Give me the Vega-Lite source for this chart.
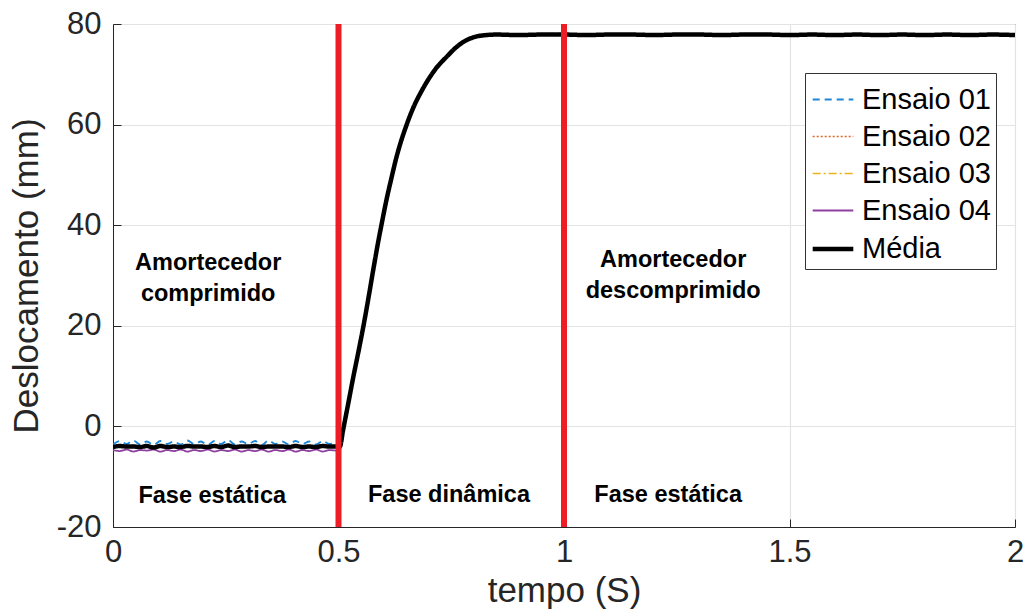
{
  "$schema": "https://vega.github.io/schema/vega-lite/v6.json",
  "autosize": "none",
  "width": 902,
  "height": 503,
  "padding": {"left": 113, "top": 24, "right": 11, "bottom": 89},
  "background": "white",
  "config": {
    "view": {"stroke": "#262626", "strokeWidth": 1},
    "font": "Liberation Sans",
    "axis": {
      "labelFont": "Liberation Sans",
      "titleFont": "Liberation Sans",
      "labelFontSize": 31,
      "titleFontSize": 35,
      "labelColor": "#262626",
      "titleColor": "#262626",
      "titleFontWeight": "normal",
      "domainColor": "#262626",
      "gridColor": "#e3e3e3",
      "gridWidth": 1.2,
      "ticks": true,
      "tickSize": -8,
      "tickColor": "#262626",
      "labelExpr": "toString(datum.value)"
    },
    "legend": {
      "labelFont": "Liberation Sans",
      "labelFontSize": 29,
      "labelColor": "#000000",
      "fillColor": "white",
      "strokeColor": "#333333",
      "padding": 5,
      "symbolType": "stroke",
      "symbolSize": 1650,
      "rowPadding": -9,
      "labelOffset": 6
    }
  },
  "layer": [
    {
      "data": {
        "values": [
          {"t": 0.000, "Ensaio 01": -3.6, "Ensaio 02": -4.1, "Ensaio 03": -3.9, "Ensaio 04": -4.7, "Média": -4.1},
          {"t": 0.015, "Ensaio 01": -2.9, "Ensaio 02": -3.9, "Ensaio 03": -4.1, "Ensaio 04": -4.9, "Média": -3.9},
          {"t": 0.030, "Ensaio 01": -3.5, "Ensaio 02": -4.2, "Ensaio 03": -3.8, "Ensaio 04": -4.6, "Média": -4.0},
          {"t": 0.045, "Ensaio 01": -2.8, "Ensaio 02": -3.8, "Ensaio 03": -4.2, "Ensaio 04": -5.0, "Média": -4.0},
          {"t": 0.060, "Ensaio 01": -3.6, "Ensaio 02": -4.1, "Ensaio 03": -3.9, "Ensaio 04": -4.7, "Média": -4.1},
          {"t": 0.075, "Ensaio 01": -3.0, "Ensaio 02": -3.9, "Ensaio 03": -4.0, "Ensaio 04": -4.8, "Média": -3.9},
          {"t": 0.090, "Ensaio 01": -3.7, "Ensaio 02": -4.2, "Ensaio 03": -4.1, "Ensaio 04": -4.6, "Média": -4.2},
          {"t": 0.105, "Ensaio 01": -2.9, "Ensaio 02": -3.9, "Ensaio 03": -3.9, "Ensaio 04": -5.0, "Média": -3.9},
          {"t": 0.120, "Ensaio 01": -3.5, "Ensaio 02": -4.1, "Ensaio 03": -4.2, "Ensaio 04": -4.7, "Média": -4.1},
          {"t": 0.135, "Ensaio 01": -3.0, "Ensaio 02": -4.0, "Ensaio 03": -3.9, "Ensaio 04": -4.9, "Média": -4.0},
          {"t": 0.150, "Ensaio 01": -3.6, "Ensaio 02": -4.2, "Ensaio 03": -4.0, "Ensaio 04": -4.6, "Média": -4.1},
          {"t": 0.165, "Ensaio 01": -2.8, "Ensaio 02": -3.8, "Ensaio 03": -4.1, "Ensaio 04": -5.0, "Média": -3.9},
          {"t": 0.180, "Ensaio 01": -3.5, "Ensaio 02": -4.1, "Ensaio 03": -3.9, "Ensaio 04": -4.7, "Média": -4.0},
          {"t": 0.195, "Ensaio 01": -3.0, "Ensaio 02": -4.0, "Ensaio 03": -4.2, "Ensaio 04": -4.9, "Média": -4.0},
          {"t": 0.210, "Ensaio 01": -3.7, "Ensaio 02": -4.2, "Ensaio 03": -3.9, "Ensaio 04": -4.6, "Média": -4.1},
          {"t": 0.225, "Ensaio 01": -2.9, "Ensaio 02": -3.9, "Ensaio 03": -4.0, "Ensaio 04": -5.0, "Média": -3.9},
          {"t": 0.240, "Ensaio 01": -3.5, "Ensaio 02": -4.1, "Ensaio 03": -4.1, "Ensaio 04": -4.7, "Média": -4.1},
          {"t": 0.255, "Ensaio 01": -2.7, "Ensaio 02": -3.8, "Ensaio 03": -3.9, "Ensaio 04": -4.9, "Média": -3.8},
          {"t": 0.270, "Ensaio 01": -3.6, "Ensaio 02": -4.2, "Ensaio 03": -4.2, "Ensaio 04": -4.6, "Média": -4.1},
          {"t": 0.285, "Ensaio 01": -3.0, "Ensaio 02": -4.0, "Ensaio 03": -3.9, "Ensaio 04": -5.0, "Média": -4.0},
          {"t": 0.300, "Ensaio 01": -3.5, "Ensaio 02": -4.1, "Ensaio 03": -4.0, "Ensaio 04": -4.7, "Média": -4.0},
          {"t": 0.315, "Ensaio 01": -2.9, "Ensaio 02": -3.9, "Ensaio 03": -4.1, "Ensaio 04": -4.9, "Média": -3.9},
          {"t": 0.330, "Ensaio 01": -3.7, "Ensaio 02": -4.2, "Ensaio 03": -3.9, "Ensaio 04": -4.6, "Média": -4.1},
          {"t": 0.345, "Ensaio 01": -2.8, "Ensaio 02": -3.8, "Ensaio 03": -4.2, "Ensaio 04": -5.0, "Média": -4.0},
          {"t": 0.360, "Ensaio 01": -3.5, "Ensaio 02": -4.1, "Ensaio 03": -3.9, "Ensaio 04": -4.7, "Média": -4.0},
          {"t": 0.375, "Ensaio 01": -3.0, "Ensaio 02": -4.0, "Ensaio 03": -4.0, "Ensaio 04": -4.9, "Média": -4.0},
          {"t": 0.390, "Ensaio 01": -3.6, "Ensaio 02": -4.2, "Ensaio 03": -4.1, "Ensaio 04": -4.6, "Média": -4.1},
          {"t": 0.405, "Ensaio 01": -2.9, "Ensaio 02": -3.9, "Ensaio 03": -3.9, "Ensaio 04": -5.0, "Média": -3.9},
          {"t": 0.420, "Ensaio 01": -3.5, "Ensaio 02": -4.1, "Ensaio 03": -4.2, "Ensaio 04": -4.7, "Média": -4.1},
          {"t": 0.435, "Ensaio 01": -3.0, "Ensaio 02": -4.0, "Ensaio 03": -3.9, "Ensaio 04": -4.9, "Média": -4.0},
          {"t": 0.450, "Ensaio 01": -3.6, "Ensaio 02": -4.2, "Ensaio 03": -4.0, "Ensaio 04": -4.6, "Média": -4.1},
          {"t": 0.465, "Ensaio 01": -2.9, "Ensaio 02": -3.9, "Ensaio 03": -4.1, "Ensaio 04": -5.0, "Média": -3.9},
          {"t": 0.480, "Ensaio 01": -3.5, "Ensaio 02": -4.1, "Ensaio 03": -3.9, "Ensaio 04": -4.7, "Média": -4.0},
          {"t": 0.495, "Ensaio 01": -3.1, "Ensaio 02": -4.0, "Ensaio 03": -4.1, "Ensaio 04": -4.8, "Média": -4.0},
          {"t": 0.503, "Ensaio 01": -3.4, "Ensaio 02": -4.0, "Ensaio 03": -4.0, "Ensaio 04": -4.6, "Média": -4.0},
          {"t": 0.510, "Ensaio 01": -0.5, "Ensaio 02": -0.8, "Ensaio 03": -0.7, "Ensaio 04": -1.1, "Média": -0.8},
          {"t": 0.520, "Ensaio 01": 4.0, "Ensaio 02": 3.8, "Ensaio 03": 3.9, "Ensaio 04": 3.6, "Média": 3.8},
          {"t": 0.533, "Ensaio 01": 10.0, "Ensaio 02": 9.9, "Ensaio 03": 9.9, "Ensaio 04": 9.8, "Média": 9.9},
          {"t": 0.545, "Ensaio 01": 15.3, "Ensaio 02": 15.2, "Ensaio 03": 15.2, "Ensaio 04": 15.1, "Média": 15.2},
          {"t": 0.555, "Ensaio 01": 19.9, "Ensaio 02": 19.8, "Ensaio 03": 19.8, "Ensaio 04": 19.7, "Média": 19.8},
          {"t": 0.565, "Ensaio 01": 24.9, "Ensaio 02": 24.8, "Ensaio 03": 24.8, "Ensaio 04": 24.7, "Média": 24.8},
          {"t": 0.577, "Ensaio 01": 31.2, "Ensaio 02": 31.1, "Ensaio 03": 31.1, "Ensaio 04": 31.0, "Média": 31.1},
          {"t": 0.587, "Ensaio 01": 36.3, "Ensaio 02": 36.2, "Ensaio 03": 36.2, "Ensaio 04": 36.1, "Média": 36.2},
          {"t": 0.596, "Ensaio 01": 40.5, "Ensaio 02": 40.4, "Ensaio 03": 40.4, "Ensaio 04": 40.3, "Média": 40.4},
          {"t": 0.607, "Ensaio 01": 45.4, "Ensaio 02": 45.3, "Ensaio 03": 45.3, "Ensaio 04": 45.2, "Média": 45.3},
          {"t": 0.618, "Ensaio 01": 49.7, "Ensaio 02": 49.6, "Ensaio 03": 49.6, "Ensaio 04": 49.5, "Média": 49.6},
          {"t": 0.627, "Ensaio 01": 53.1, "Ensaio 02": 53.0, "Ensaio 03": 53.0, "Ensaio 04": 52.9, "Média": 53.0},
          {"t": 0.636, "Ensaio 01": 56.0, "Ensaio 02": 55.9, "Ensaio 03": 55.9, "Ensaio 04": 55.8, "Média": 55.9},
          {"t": 0.650, "Ensaio 01": 59.8, "Ensaio 02": 59.7, "Ensaio 03": 59.7, "Ensaio 04": 59.6, "Média": 59.7},
          {"t": 0.666, "Ensaio 01": 63.5, "Ensaio 02": 63.4, "Ensaio 03": 63.4, "Ensaio 04": 63.3, "Média": 63.4},
          {"t": 0.685, "Ensaio 01": 66.9, "Ensaio 02": 66.8, "Ensaio 03": 66.8, "Ensaio 04": 66.7, "Média": 66.8},
          {"t": 0.703, "Ensaio 01": 69.6, "Ensaio 02": 69.5, "Ensaio 03": 69.5, "Ensaio 04": 69.4, "Média": 69.5},
          {"t": 0.720, "Ensaio 01": 71.7, "Ensaio 02": 71.6, "Ensaio 03": 71.6, "Ensaio 04": 71.5, "Média": 71.6},
          {"t": 0.740, "Ensaio 01": 73.6, "Ensaio 02": 73.5, "Ensaio 03": 73.5, "Ensaio 04": 73.4, "Média": 73.5},
          {"t": 0.760, "Ensaio 01": 75.4, "Ensaio 02": 75.3, "Ensaio 03": 75.3, "Ensaio 04": 75.2, "Média": 75.3},
          {"t": 0.784, "Ensaio 01": 76.9, "Ensaio 02": 76.8, "Ensaio 03": 76.8, "Ensaio 04": 76.7, "Média": 76.8},
          {"t": 0.805, "Ensaio 01": 77.6, "Ensaio 02": 77.5, "Ensaio 03": 77.5, "Ensaio 04": 77.4, "Média": 77.5},
          {"t": 0.828, "Ensaio 01": 77.9, "Ensaio 02": 77.8, "Ensaio 03": 77.8, "Ensaio 04": 77.7, "Média": 77.8},
          {"t": 0.850, "Ensaio 01": 78.0, "Ensaio 02": 77.9, "Ensaio 03": 77.9, "Ensaio 04": 77.8, "Média": 77.9},
          {"t": 0.900, "Ensaio 01": 77.9, "Ensaio 02": 77.8, "Ensaio 03": 77.9, "Ensaio 04": 77.7, "Média": 77.8},
          {"t": 0.950, "Ensaio 01": 78.0, "Ensaio 02": 77.9, "Ensaio 03": 77.8, "Ensaio 04": 77.8, "Média": 77.9},
          {"t": 1.000, "Ensaio 01": 78.1, "Ensaio 02": 77.9, "Ensaio 03": 77.9, "Ensaio 04": 77.8, "Média": 77.9},
          {"t": 1.050, "Ensaio 01": 77.9, "Ensaio 02": 77.8, "Ensaio 03": 77.9, "Ensaio 04": 77.7, "Média": 77.8},
          {"t": 1.100, "Ensaio 01": 78.0, "Ensaio 02": 77.9, "Ensaio 03": 77.8, "Ensaio 04": 77.8, "Média": 77.9},
          {"t": 1.150, "Ensaio 01": 78.0, "Ensaio 02": 77.9, "Ensaio 03": 77.9, "Ensaio 04": 77.8, "Média": 77.9},
          {"t": 1.200, "Ensaio 01": 77.9, "Ensaio 02": 77.8, "Ensaio 03": 77.8, "Ensaio 04": 77.7, "Média": 77.8},
          {"t": 1.250, "Ensaio 01": 78.0, "Ensaio 02": 77.9, "Ensaio 03": 77.9, "Ensaio 04": 77.8, "Média": 77.9},
          {"t": 1.300, "Ensaio 01": 78.0, "Ensaio 02": 77.8, "Ensaio 03": 77.9, "Ensaio 04": 77.8, "Média": 77.9},
          {"t": 1.350, "Ensaio 01": 77.9, "Ensaio 02": 77.9, "Ensaio 03": 77.8, "Ensaio 04": 77.7, "Média": 77.8},
          {"t": 1.400, "Ensaio 01": 78.0, "Ensaio 02": 77.9, "Ensaio 03": 77.9, "Ensaio 04": 77.8, "Média": 77.9},
          {"t": 1.450, "Ensaio 01": 78.0, "Ensaio 02": 77.8, "Ensaio 03": 77.9, "Ensaio 04": 77.8, "Média": 77.9},
          {"t": 1.500, "Ensaio 01": 77.9, "Ensaio 02": 77.9, "Ensaio 03": 77.8, "Ensaio 04": 77.7, "Média": 77.8},
          {"t": 1.550, "Ensaio 01": 78.0, "Ensaio 02": 77.9, "Ensaio 03": 77.9, "Ensaio 04": 77.8, "Média": 77.9},
          {"t": 1.600, "Ensaio 01": 77.9, "Ensaio 02": 77.8, "Ensaio 03": 77.8, "Ensaio 04": 77.7, "Média": 77.8},
          {"t": 1.650, "Ensaio 01": 78.0, "Ensaio 02": 77.9, "Ensaio 03": 77.9, "Ensaio 04": 77.8, "Média": 77.9},
          {"t": 1.700, "Ensaio 01": 77.9, "Ensaio 02": 77.8, "Ensaio 03": 77.9, "Ensaio 04": 77.7, "Média": 77.8},
          {"t": 1.750, "Ensaio 01": 78.0, "Ensaio 02": 77.9, "Ensaio 03": 77.8, "Ensaio 04": 77.8, "Média": 77.9},
          {"t": 1.800, "Ensaio 01": 77.9, "Ensaio 02": 77.8, "Ensaio 03": 77.9, "Ensaio 04": 77.7, "Média": 77.8},
          {"t": 1.850, "Ensaio 01": 78.0, "Ensaio 02": 77.9, "Ensaio 03": 77.8, "Ensaio 04": 77.8, "Média": 77.9},
          {"t": 1.900, "Ensaio 01": 77.9, "Ensaio 02": 77.8, "Ensaio 03": 77.9, "Ensaio 04": 77.7, "Média": 77.8},
          {"t": 1.950, "Ensaio 01": 78.0, "Ensaio 02": 77.9, "Ensaio 03": 77.8, "Ensaio 04": 77.8, "Média": 77.9},
          {"t": 2.000, "Ensaio 01": 77.9, "Ensaio 02": 77.8, "Ensaio 03": 77.9, "Ensaio 04": 77.7, "Média": 77.8}
        ]
      },
      "transform": [
        {"fold": ["Ensaio 01", "Ensaio 02", "Ensaio 03", "Ensaio 04", "Média"], "as": ["serie", "valor"]}
      ],
      "mark": {"type": "line", "clip": true, "interpolate": "monotone"},
      "encoding": {
        "x": {
          "field": "t", "type": "quantitative",
          "scale": {"domain": [0, 2], "nice": false, "zero": false},
          "axis": {"values": [0, 0.5, 1, 1.5, 2], "title": "tempo (S)", "labelPadding": 18, "titlePadding": 6, "labelFlush": false}
        },
        "y": {
          "field": "valor", "type": "quantitative",
          "scale": {"domain": [-20, 80], "nice": false, "zero": false},
          "axis": {"values": [-20, 0, 20, 40, 60, 80], "title": "Deslocamento (mm)", "labelPadding": 20, "titlePadding": 12}
        },
        "color": {
          "field": "serie", "type": "nominal",
          "scale": {"type": "ordinal", "domain": ["Ensaio 01", "Ensaio 02", "Ensaio 03", "Ensaio 04", "Média"], "range": ["#1f86d6", "#e0642a", "#edb120", "#8e3fa0", "#000000"]},
          "legend": {"title": null, "orient": "none", "legendX": 692, "legendY": 49}
        },
        "strokeDash": {
          "field": "serie", "type": "nominal",
          "scale": {"type": "ordinal", "domain": ["Ensaio 01", "Ensaio 02", "Ensaio 03", "Ensaio 04", "Média"], "range": [[7, 5], [2, 2], [8, 3, 2, 3], [1, 0], [1, 0]]},
          "legend": {"title": null, "orient": "none", "legendX": 692, "legendY": 49}
        },
        "strokeWidth": {
          "field": "serie", "type": "nominal",
          "scale": {"type": "ordinal", "domain": ["Ensaio 01", "Ensaio 02", "Ensaio 03", "Ensaio 04", "Média"], "range": [1.8, 1.5, 1.5, 1.8, 4.5]},
          "legend": {"title": null, "orient": "none", "legendX": 692, "legendY": 49}
        }
      }
    },
    {
      "data": {"values": [{"x": 0.5}, {"x": 1.0}]},
      "mark": {"type": "rule", "color": "#ee1c25", "strokeWidth": 6},
      "encoding": {"x": {"field": "x", "type": "quantitative"}}
    },
    {
      "data": {
        "values": [
          {"x": 0.211, "y": 32.4, "label": "Amortecedor"},
          {"x": 0.211, "y": 26.4, "label": "comprimido"},
          {"x": 0.22, "y": -13.8, "label": "Fase estática"},
          {"x": 0.745, "y": -13.6, "label": "Fase dinâmica"},
          {"x": 1.242, "y": 33.0, "label": "Amortecedor"},
          {"x": 1.242, "y": 27.0, "label": "descomprimido"},
          {"x": 1.231, "y": -13.6, "label": "Fase estática"}
        ]
      },
      "mark": {"type": "text", "font": "Liberation Sans", "fontWeight": "bold", "fontSize": 23.5, "color": "#000000", "align": "center", "baseline": "middle"},
      "encoding": {
        "x": {"field": "x", "type": "quantitative"},
        "y": {"field": "y", "type": "quantitative"},
        "text": {"field": "label"}
      }
    }
  ]
}
